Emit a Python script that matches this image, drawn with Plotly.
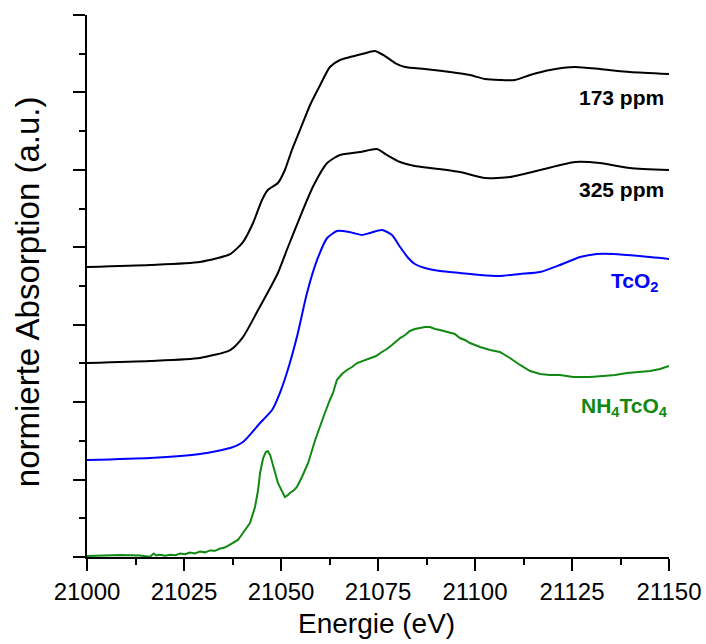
import plotly.graph_objects as go

# Tc K-edge XANES spectra, normalised and vertically offset
e_173 = [21000.0, 21016.2, 21029.1, 21036.9, 21040.2, 21042.8, 21045.1, 21046.6, 21049.2, 21051.0,
         21052.8, 21054.9, 21057.5, 21060.1, 21062.6, 21065.2, 21067.8, 21070.9, 21074.2, 21076.8,
         21079.4, 21082.0, 21087.1, 21093.6, 21098.7, 21102.6, 21106.4, 21110.3, 21114.2, 21119.3,
         21125.8, 21132.2, 21139.9, 21150.0]
a_173 = [3.745, 3.771, 3.810, 3.913, 4.068, 4.314, 4.611, 4.740, 4.830, 4.998,
         5.256, 5.515, 5.838, 6.096, 6.328, 6.419, 6.457, 6.496, 6.535, 6.470,
         6.380, 6.328, 6.302, 6.264, 6.225, 6.173, 6.160, 6.160, 6.225, 6.290,
         6.328, 6.302, 6.264, 6.238]

e_325 = [21000.0, 21016.2, 21029.1, 21036.9, 21040.2, 21044.1, 21047.2, 21049.2, 21051.5, 21054.9,
         21058.2, 21061.9, 21065.2, 21070.4, 21074.7, 21077.3, 21080.7, 21084.5, 21088.4, 21096.1,
         21102.6, 21109.0, 21116.8, 21125.8, 21132.2, 21139.9, 21150.0]
a_325 = [2.505, 2.531, 2.570, 2.673, 2.841, 3.190, 3.474, 3.668, 3.965, 4.391,
         4.779, 5.088, 5.192, 5.230, 5.269, 5.192, 5.101, 5.050, 5.024, 4.972,
         4.895, 4.908, 4.998, 5.101, 5.088, 5.024, 4.998]

e_tco2 = [21000.0, 21016.2, 21029.1, 21036.9, 21040.2, 21044.6, 21047.7, 21049.7, 21051.5, 21054.1,
          21056.7, 21059.3, 21061.9, 21064.4, 21066.0, 21068.6, 21070.9, 21072.9, 21076.0, 21078.6,
          21080.7, 21082.8, 21084.5, 21087.1, 21091.0, 21096.1, 21101.3, 21106.4, 21111.6, 21116.8,
          21121.9, 21127.1, 21131.4, 21135.6, 21142.5, 21150.0]
a_tco2 = [1.253, 1.279, 1.330, 1.408, 1.485, 1.731, 1.898, 2.118, 2.376, 2.841,
          3.410, 3.836, 4.120, 4.210, 4.210, 4.185, 4.159, 4.185, 4.223, 4.159,
          4.004, 3.862, 3.784, 3.732, 3.694, 3.668, 3.642, 3.629, 3.655, 3.681,
          3.771, 3.874, 3.913, 3.913, 3.887, 3.849]

e_nh4 = [21000.0, 21003.4, 21008.5, 21013.7, 21016.2, 21017.2, 21017.8, 21018.8, 21020.2, 21021.4,
         21022.8, 21024.0, 21025.3, 21026.5, 21027.8, 21029.1, 21030.4, 21031.7, 21033.0, 21034.3,
         21035.3, 21036.3, 21037.6, 21038.9, 21040.2, 21042.0, 21043.3, 21044.1, 21044.6, 21045.4,
         21046.1, 21046.6, 21047.2, 21047.7, 21048.5, 21049.2, 21050.3, 21051.0, 21051.8, 21052.3,
         21053.4, 21054.1, 21055.4, 21057.0, 21058.8, 21060.1, 21061.3, 21062.6, 21063.4, 21064.4,
         21065.7, 21067.0, 21068.3, 21069.6, 21071.1, 21072.9, 21074.5, 21076.0, 21077.3, 21078.6,
         21079.9, 21080.7, 21082.0, 21083.2, 21084.5, 21085.8, 21087.1, 21088.4, 21089.7, 21091.0,
         21092.8, 21094.8, 21096.1, 21097.4, 21098.7, 21101.3, 21103.9, 21106.4, 21109.0, 21111.6,
         21114.2, 21116.8, 21119.3, 21121.9, 21125.3, 21129.6, 21133.0, 21136.1, 21139.2, 21142.5,
         21145.1, 21147.7, 21150.0]
a_nh4 = [0.013, 0.022, 0.026, 0.018, 0.003, 0.045, 0.020, 0.028, 0.015, 0.030,
         0.022, 0.045, 0.035, 0.058, 0.045, 0.070, 0.060, 0.085, 0.080, 0.110,
         0.118, 0.145, 0.180, 0.220, 0.310, 0.439, 0.646, 0.865, 1.085, 1.279,
         1.356, 1.369, 1.317, 1.214, 1.085, 0.956, 0.839, 0.775, 0.801, 0.827,
         0.865, 0.904, 1.033, 1.214, 1.511, 1.705, 1.860, 2.028, 2.118, 2.286,
         2.363, 2.415, 2.454, 2.505, 2.531, 2.570, 2.596, 2.648, 2.686, 2.738,
         2.790, 2.828, 2.867, 2.919, 2.945, 2.958, 2.970, 2.970, 2.945, 2.932,
         2.906, 2.880, 2.828, 2.803, 2.764, 2.712, 2.673, 2.648, 2.570, 2.480,
         2.402, 2.363, 2.350, 2.350, 2.325, 2.325, 2.338, 2.350, 2.376, 2.389,
         2.402, 2.428, 2.467]

x_ticks = [21000, 21025, 21050, 21075, 21100, 21125, 21150]

FONT = "Liberation Sans, Arial, sans-serif"

fig = go.Figure()
series = [
    (e_173, a_173, "#000000", "spline"),
    (e_325, a_325, "#000000", "spline"),
    (e_tco2, a_tco2, "#0000ff", "spline"),
    (e_nh4, a_nh4, "#118811", "linear"),
]
for xs, ys, col, shape in series:
    fig.add_trace(go.Scatter(x=xs, y=ys, mode="lines",
                             line=dict(color=col, width=2, shape=shape, smoothing=0.6),
                             showlegend=False, hoverinfo="skip"))

# sample labels, right-aligned near the right edge of the plot
labels = [
    (0.995, 5.94, "173 ppm", "#000000"),
    (0.995, 4.74, "325 ppm", "#000000"),
    (0.985, 3.55, "TcO<sub>2</sub>", "#0000ff"),
    (1.002, 1.94, "NH<sub>4</sub>TcO<sub>4</sub>", "#118811"),
]
for x, y, txt, col in labels:
    fig.add_annotation(x=x, y=y, xref="paper", yref="y", text=txt, showarrow=False,
                       xanchor="right", yanchor="middle",
                       font=dict(family=FONT, size=21, color=col, weight="bold"))

# axis titles
fig.add_annotation(x=0.497, y=-0.122, xref="paper", yref="paper", text="Energie (eV)",
                   showarrow=False, xanchor="center", yanchor="middle",
                   font=dict(family=FONT, size=28, color="black"))
fig.add_annotation(x=-0.101, y=0.489, xref="paper", yref="paper",
                   text="normierte Absorption (a.u.)", textangle=-90,
                   showarrow=False, xanchor="center", yanchor="middle",
                   font=dict(family=FONT, size=33, color="black"))

fig.update_layout(
    width=706, height=644,
    margin=dict(l=87, r=37, t=15, b=87),
    paper_bgcolor="white", plot_bgcolor="white",
    font=dict(family=FONT, color="black"),
)
fig.update_xaxes(
    range=[21000, 21150], tickvals=x_ticks, ticktext=[str(v) for v in x_ticks],
    automargin=False,
    showgrid=False, zeroline=False, showline=True, linecolor="black", linewidth=2,
    ticks="outside", ticklen=12, tickwidth=2, tickcolor="black",
    tickfont=dict(size=24, family=FONT),
    minor=dict(dtick=12.5, tick0=21000, ticks="outside", ticklen=6, tickwidth=2, tickcolor="black"),
)
fig.update_yaxes(
    range=[0, 7], dtick=1, tick0=0, showticklabels=False,
    automargin=False,
    showgrid=False, zeroline=False, showline=True, linecolor="black", linewidth=2,
    ticks="outside", ticklen=12, tickwidth=2, tickcolor="black",
    minor=dict(dtick=0.5, tick0=0, ticks="outside", ticklen=6, tickwidth=2, tickcolor="black"),
)

fig.write_html("out.html")
